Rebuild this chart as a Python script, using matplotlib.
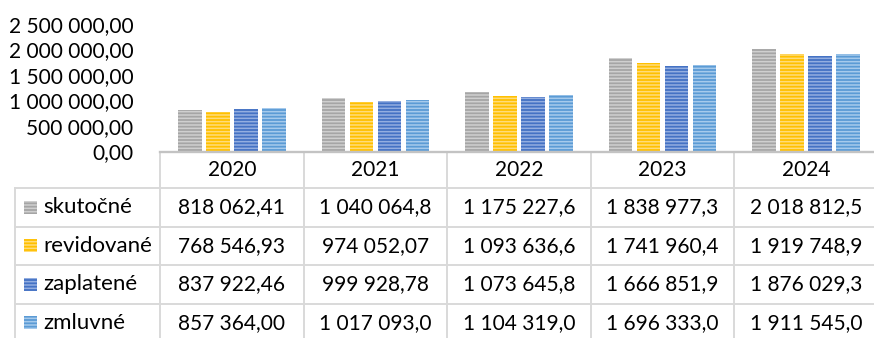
import matplotlib
matplotlib.use("Agg")
import matplotlib.pyplot as plt
from matplotlib.patches import Rectangle
from matplotlib.transforms import blended_transform_factory
from matplotlib.ticker import FuncFormatter

years = ["2020", "2021", "2022", "2023", "2024"]
series_names = ["skutočné", "revidované", "zaplatené", "zmluvné"]
skutocne = [818062.41, 1040064.8, 1175227.6, 1838977.3, 2018812.5]
revidovane = [768546.93, 974052.07, 1093636.6, 1741960.4, 1919748.9]
zaplatene = [837922.46, 999928.78, 1073645.8, 1666851.9, 1876029.3]
zmluvne = [857364.00, 1017093.0, 1104319.0, 1696333.0, 1911545.0]
y_ticks = [0, 500000, 1000000, 1500000, 2000000, 2500000]

series = [skutocne, revidovane, zaplatene, zmluvne]
base_colors = ["#A5A5A5", "#FFC000", "#4472C4", "#5B9BD5"]
stripe_colors = ["#CFCFCF", "#FFDC7A", "#93AEE0", "#A6CAEC"]

FONT = "Lato"
FS = 15
plt.rcParams["font.family"] = [FONT, "DejaVu Sans"]
plt.rcParams["hatch.linewidth"] = 1.1

W, H = 874, 338
fig = plt.figure(figsize=(W / 100, H / 100), dpi=100)


def fy(py):
    return 1 - py / H


def fx(px):
    return px / W


ax = fig.add_axes([fx(160), fy(151.5), fx(878) - fx(160), fy(24) - fy(151.5)])
ax.set_xlim(-0.5, len(years) - 0.5)
ax.set_ylim(0, 2500000)


def sk_num(v, dec):
    s = f"{v:,.{dec}f}"
    return s.replace(",", " ").replace(".", ",")


n = len(series)
bw = 0.163
step = 0.195
for i, vals in enumerate(series):
    off = (i - (n - 1) / 2) * step
    xs = [k + off for k in range(len(years))]
    ax.bar(xs, vals, width=bw, color=base_colors[i], edgecolor=stripe_colors[i],
           linewidth=0, hatch="-----", zorder=2)

ax.set_yticks(y_ticks)
ax.yaxis.set_major_formatter(FuncFormatter(lambda v, p: sk_num(v, 2)))
ax.tick_params(axis="y", length=0, pad=19, labelsize=FS)
ax.set_xticks([])
for sp in ["top", "right", "left", "bottom"]:
    ax.spines[sp].set_visible(False)

# data table below the plot
grid_c = "#D9D9D9"
axis_c = "#C3C3C3"
tr = blended_transform_factory(ax.transData, fig.transFigure)
row_tops = [151.5, 188, 226.5, 265, 303.5, 342]

# axis line / table top border
fig.add_artist(plt.Line2D([-0.5, len(years) - 0.5], [fy(151.5), fy(151.5)],
                          transform=tr, color=axis_c, lw=1.7, zorder=5))
# horizontal lines
for r in range(1, len(row_tops)):
    fig.add_artist(plt.Line2D([fx(15.5), 1.0], [fy(row_tops[r]), fy(row_tops[r])],
                              transform=fig.transFigure, color=grid_c, lw=1.4))
# vertical lines between year columns
for k in range(len(years) + 1):
    fig.add_artist(plt.Line2D([k - 0.5, k - 0.5], [fy(151.5), fy(342)],
                              transform=tr, color=grid_c, lw=1.4))
# label column left border
fig.add_artist(plt.Line2D([fx(15.5), fx(15.5)], [fy(188), fy(342)],
                          transform=fig.transFigure, color=grid_c, lw=1.4))

# header
for k, yr in enumerate(years):
    fig.text(k, fy((row_tops[0] + row_tops[1]) / 2), yr, transform=tr,
             ha="center", va="center", fontsize=FS)

for r, (name, vals) in enumerate(zip(series_names, series)):
    yc = fy((row_tops[r + 1] + row_tops[r + 2]) / 2)
    # legend key
    fig.add_artist(Rectangle((fx(24), yc - 6.5 / H), 13 / W, 13 / H,
                             transform=fig.transFigure, facecolor=base_colors[r],
                             edgecolor=stripe_colors[r], linewidth=0, hatch="-----"))
    fig.text(fx(43), yc, name, ha="left", va="center", fontsize=16)
    for k, v in enumerate(vals):
        dec = 2 if v < 1e6 else 1
        fig.text(k, yc, sk_num(v, dec), transform=tr, ha="center", va="center",
                 fontsize=FS)

fig.savefig("out.png", dpi=100)
